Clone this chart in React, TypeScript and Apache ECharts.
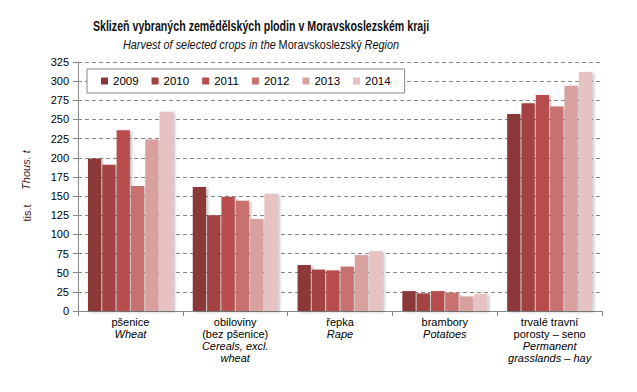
import React, { useEffect, useRef } from "react";
import * as echarts from "echarts";

const categories = ["pšenice", "obiloviny", "řepka", "brambory", "trvalé"];
const catLabelsCz = ["pšenice", "obiloviny\n(bez pšenice)", "řepka", "brambory", "trvalé travní\nporosty – seno"];
const catLabelsEn = ["Wheat", "Cereals, excl.\nwheat", "Rape", "Potatoes", "Permanent\ngrasslands – hay"];
const years = ["2009", "2010", "2011", "2012", "2013", "2014"];
const v2009 = [199, 162, 60, 26, 257];
const v2010 = [191, 125, 54, 23, 271];
const v2011 = [236, 149, 53, 26, 282];
const v2012 = [163, 144, 58, 24, 267];
const v2013 = [224, 120, 73, 19, 294];
const v2014 = [260, 153, 78, 22, 312];
const colors = ["#8B3737", "#A34242", "#B94D4D", "#C87171", "#D9A0A0", "#E6C2C3"];
const titleText = "Sklizeň vybraných zemědělských plodin v Moravskoslezském kraji";
const subtitleText = "{i|Harvest of selected crops in the} {n|Moravskoslezský} {i|Region}";

export default function App() {
  const ref = useRef<HTMLDivElement>(null);
  useEffect(() => {
    if (!ref.current) return;
    const chart = echarts.init(ref.current, null, { renderer: "svg" });
    const all = [v2009, v2010, v2011, v2012, v2013, v2014];
    const font = "Liberation Sans, Arial, sans-serif";
    chart.setOption({
      animation: false,
      textStyle: { fontFamily: font },
      legend: {
        left: 87,
        top: 69,
        width: 312,
        height: 24,
        padding: [6, 14, 6, 14],
        orient: "horizontal",
        data: years,
        itemWidth: 7,
        itemHeight: 7,
        itemGap: 13,
        icon: "rect",
        backgroundColor: "#fff",
        borderColor: "#888",
        borderWidth: 1,
        textStyle: { fontSize: 11.5, color: "#000", fontFamily: font },
      },
      grid: { left: 78, right: 35, top: 62, bottom: 81, containLabel: false },
      xAxis: {
        type: "category",
        data: categories,
        axisLine: { lineStyle: { color: "#888" } },
        axisTick: { show: true, length: 5, lineStyle: { color: "#888" } },
        axisLabel: {
          interval: 0,
          margin: 5,
          formatter: (_: string, idx: number) => `{c|${catLabelsCz[idx]}}\n{e|${catLabelsEn[idx]}}`,
          rich: {
            c: { fontSize: 11, color: "#000", lineHeight: 12, fontFamily: font },
            e: { fontSize: 11, color: "#000", lineHeight: 12, fontStyle: "italic", fontFamily: font },
          },
        },
      },
      yAxis: {
        type: "value",
        min: 0,
        max: 325,
        interval: 25,
        axisLine: { show: true, lineStyle: { color: "#888" } },
        axisTick: { show: true, length: 5, lineStyle: { color: "#888" } },
        axisLabel: { fontSize: 11, color: "#000", margin: 9, fontFamily: font },
        splitLine: { lineStyle: { color: "#888", type: [4, 3] } },
      },
      graphic: [
        {
          type: "text",
          x: 261,
          y: 26,
          scaleX: 0.76,
          style: {
            text: titleText,
            fill: "#111",
            font: `bold 14px ${font}`,
            align: "center",
            verticalAlign: "middle",
          },
        },
        {
          type: "text",
          x: 261,
          y: 45,
          scaleX: 0.84,
          style: {
            text: subtitleText,
            align: "center",
            verticalAlign: "middle",
            rich: {
              i: { fontStyle: "italic", fontSize: 13, fill: "#111", fontFamily: font },
              n: { fontSize: 13, fill: "#111", fontFamily: font },
            },
          },
        },
        {
          type: "text",
          x: 26,
          y: 170,
          rotation: Math.PI / 2,
          style: { text: "Thous. t", fill: "#4a1414", font: `italic 11px ${font}`, align: "center", verticalAlign: "middle" },
        },
        {
          type: "text",
          x: 27,
          y: 213,
          rotation: Math.PI / 2,
          style: { text: "tis.t", fill: "#4a1414", font: `11px ${font}`, align: "center", verticalAlign: "middle" },
        },
      ],
      series: years.map((y, i) => ({
        name: y,
        type: "bar",
        data: all[i],
        barGap: "8%",
        barCategoryGap: "19%",
        itemStyle: {
          color: colors[i],
          shadowColor: "rgba(0,0,0,0.25)",
          shadowBlur: 3,
          shadowOffsetX: 2,
          shadowOffsetY: 1,
        },
      })),
    });
    return () => chart.dispose();
  }, []);
  return <div ref={ref} style={{ width: 637, height: 392, position: "absolute", left: 0, top: 0 }} />;
}
